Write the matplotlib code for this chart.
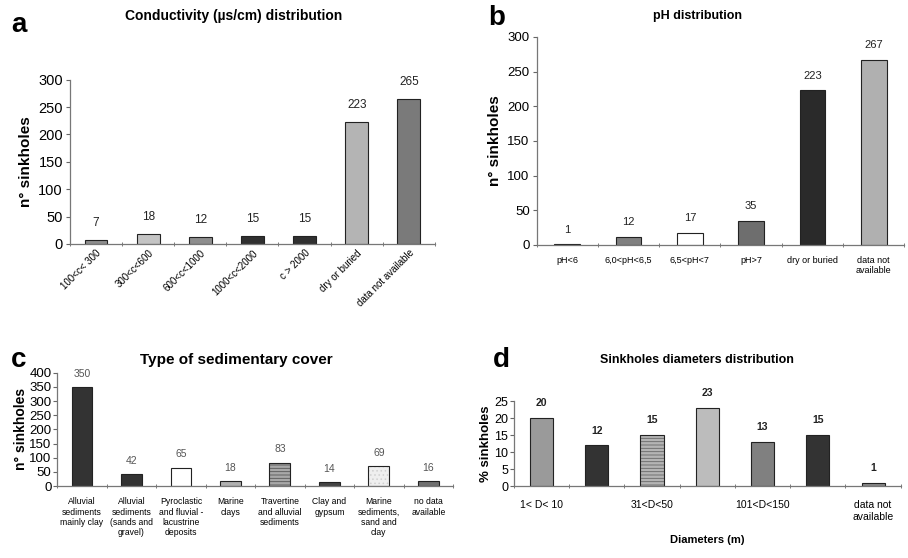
import matplotlib
matplotlib.use('Agg')
import matplotlib.pyplot as plt
import numpy as np

plt.rcParams['font.family'] = ['Liberation Sans', 'DejaVu Sans']
plt.rcParams['hatch.linewidth'] = 0.6

# Datos de los cuatro paneles
cond_labels = ['100<c< 300', '300<c<600', '600<c<1000', '1000<c<2000',
               'c > 2000', 'dry or buried', 'data not available']
cond_values = [7, 18, 12, 15, 15, 223, 265]
cond_colors = ['#8e8e8e', '#c4c4c4', '#8e8e8e', '#303030', '#303030', '#b4b4b4', '#7a7a7a']

ph_labels = ['pH<6', '6,0<pH<6,5', '6,5<pH<7', 'pH>7', 'dry or buried', 'data not\navailable']
ph_values = [1, 12, 17, 35, 223, 267]
ph_colors = ['#303030', '#808080', '#ffffff', '#6e6e6e', '#2a2a2a', '#b0b0b0']

sed_labels = ['Alluvial\nsediments\nmainly clay', 'Alluvial\nsediments\n(sands and\ngravel)',
              'Pyroclastic\nand fluvial -\nlacustrine\ndeposits', 'Marine\nclays',
              'Travertine\nand alluvial\nsediments', 'Clay and\ngypsum',
              'Marine\nsediments,\nsand and\nclay', 'no data\navailable']
sed_values = [350, 42, 65, 18, 83, 14, 69, 16]
sed_colors = ['#333333', '#333333', '#ffffff', '#b0b0b0', '#a8a8a8', '#444444', '#efefef', '#707070']
sed_hatch = ['', '', '', '', '-----', '', '....', '']
sed_hatch_colors = ['', '', '', '', '#555555', '', '#d0d0d0', '']

diam_labels = ['1< D< 10', '', '31<D<50', '', '101<D<150', '', 'data not\navailable']
diam_values = [20, 12, 15, 23, 13, 15, 1]
diam_colors = ['#9a9a9a', '#333333', '#b4b4b4', '#bcbcbc', '#808080', '#333333', '#888888']
diam_hatch = ['', '', '-----', '', '', '', '']
diam_hatch_colors = ['', '', '#666666', '', '', '', '']


def barras(ax, labels, values, colors, hatches=None, hatch_colors=None, width=0.45):
    x = np.arange(len(values))
    if hatches is None:
        hatches = [''] * len(values)
        hatch_colors = [''] * len(values)
    for i, v in enumerate(values):
        if hatches[i]:
            # relleno con trama de color propio y luego el contorno
            ax.bar(x[i], v, width=width, color=colors[i], edgecolor=hatch_colors[i],
                   linewidth=0, hatch=hatches[i])
            ax.bar(x[i], v, width=width, fill=False, edgecolor='#222222', linewidth=0.8)
        else:
            ax.bar(x[i], v, width=width, color=colors[i], edgecolor='#222222', linewidth=0.8)
    ax.set_xlim(-0.5, len(values) - 0.5)
    ax.set_xticks(x)
    ax.set_xticklabels(labels)
    ax.set_xticks(np.arange(len(values) + 1) - 0.5, minor=True)
    ax.tick_params(axis='x', which='major', length=0, pad=6)
    ax.tick_params(axis='x', which='minor', length=3, direction='inout', color='#666666')
    ax.tick_params(axis='y', length=3, color='#666666', pad=2)
    for s in ['top', 'right']:
        ax.spines[s].set_visible(False)
    for s in ['left', 'bottom']:
        ax.spines[s].set_color('#777777')
        ax.spines[s].set_linewidth(0.9)
    return x


fig = plt.figure(figsize=(9.08, 5.58), dpi=100, facecolor='white')

# a - conductividad
ax_a = fig.add_axes([0.077, 0.563, 0.402, 0.294])
x = barras(ax_a, cond_labels, cond_values, cond_colors, width=0.44)
ax_a.set_ylim(0, 300)
ax_a.set_yticks(range(0, 301, 50))
ax_a.tick_params(axis='y', labelsize=10.5)
ax_a.set_xticklabels(cond_labels, rotation=45, ha='right', rotation_mode='anchor', fontsize=7)
ax_a.tick_params(axis='x', which='major', pad=3)
ax_a.set_ylabel('n° sinkholes', fontsize=11, fontweight='bold')
for xi, v in zip(x, cond_values):
    ax_a.annotate(str(v), (xi, v), xytext=(0, 8), textcoords='offset points',
                  ha='center', va='bottom', fontsize=8.5, color='#222222')
fig.text(0.257, 0.972, 'Conductivity (µs/cm) distribution', ha='center', va='center',
         fontsize=10, fontweight='bold')
fig.text(0.012, 0.955, 'a', fontsize=20, fontweight='bold', va='center')

# b - pH
ax_b = fig.add_axes([0.591, 0.561, 0.405, 0.373])
x = barras(ax_b, ph_labels, ph_values, ph_colors, width=0.42)
ax_b.set_ylim(0, 300)
ax_b.set_yticks(range(0, 301, 50))
ax_b.tick_params(axis='y', labelsize=9.5)
ax_b.tick_params(axis='x', labelsize=6.5, pad=8)
ax_b.set_ylabel('n° sinkholes', fontsize=11, fontweight='bold')
for xi, v in zip(x, ph_values):
    ax_b.annotate(str(v), (xi, v), xytext=(0, 7), textcoords='offset points',
                  ha='center', va='bottom', fontsize=8, color='#222222')
fig.text(0.768, 0.972, 'pH distribution', ha='center', va='center',
         fontsize=9, fontweight='bold')
fig.text(0.538, 0.968, 'b', fontsize=20, fontweight='bold', va='center')

# c - cobertura sedimentaria
ax_c = fig.add_axes([0.063, 0.129, 0.436, 0.203])
x = barras(ax_c, sed_labels, sed_values, sed_colors, sed_hatch, sed_hatch_colors, width=0.42)
ax_c.set_ylim(0, 400)
ax_c.set_yticks(range(0, 401, 50))
ax_c.tick_params(axis='y', labelsize=9.5, pad=1)
ax_c.tick_params(axis='x', labelsize=6.2, pad=8)
ax_c.set_ylabel('n° sinkholes', fontsize=10, fontweight='bold', labelpad=1)
for xi, v in zip(x, sed_values):
    ax_c.annotate(str(v), (xi, v), xytext=(0, 6), textcoords='offset points',
                  ha='center', va='bottom', fontsize=7.5, color='#555555')
fig.text(0.26, 0.355, 'Type of sedimentary cover', ha='center', va='center',
         fontsize=11, fontweight='bold')
fig.text(0.012, 0.355, 'c', fontsize=20, fontweight='bold', va='center')

# d - diametros
ax_d = fig.add_axes([0.566, 0.129, 0.426, 0.152])
x = barras(ax_d, diam_labels, diam_values, diam_colors, diam_hatch, diam_hatch_colors, width=0.42)
ax_d.set_ylim(0, 25)
ax_d.set_yticks(range(0, 26, 5))
ax_d.tick_params(axis='y', labelsize=9, pad=1)
ax_d.tick_params(axis='x', labelsize=7.5, pad=10)
ax_d.set_ylabel('% sinkholes', fontsize=9.5, fontweight='bold', labelpad=2)
ax_d.set_xlabel('Diameters (m)', fontsize=8, fontweight='bold', labelpad=10)
for xi, v in zip(x, diam_values):
    ax_d.annotate(str(v), (xi, v), xytext=(0, 7), textcoords='offset points',
                  ha='center', va='bottom', fontsize=7.5, fontweight='bold', color='#222222')
fig.text(0.768, 0.355, 'Sinkholes diameters distribution', ha='center', va='center',
         fontsize=9, fontweight='bold')
fig.text(0.543, 0.355, 'd', fontsize=20, fontweight='bold', va='center')

fig.savefig('out.png', dpi=100, facecolor='white')
